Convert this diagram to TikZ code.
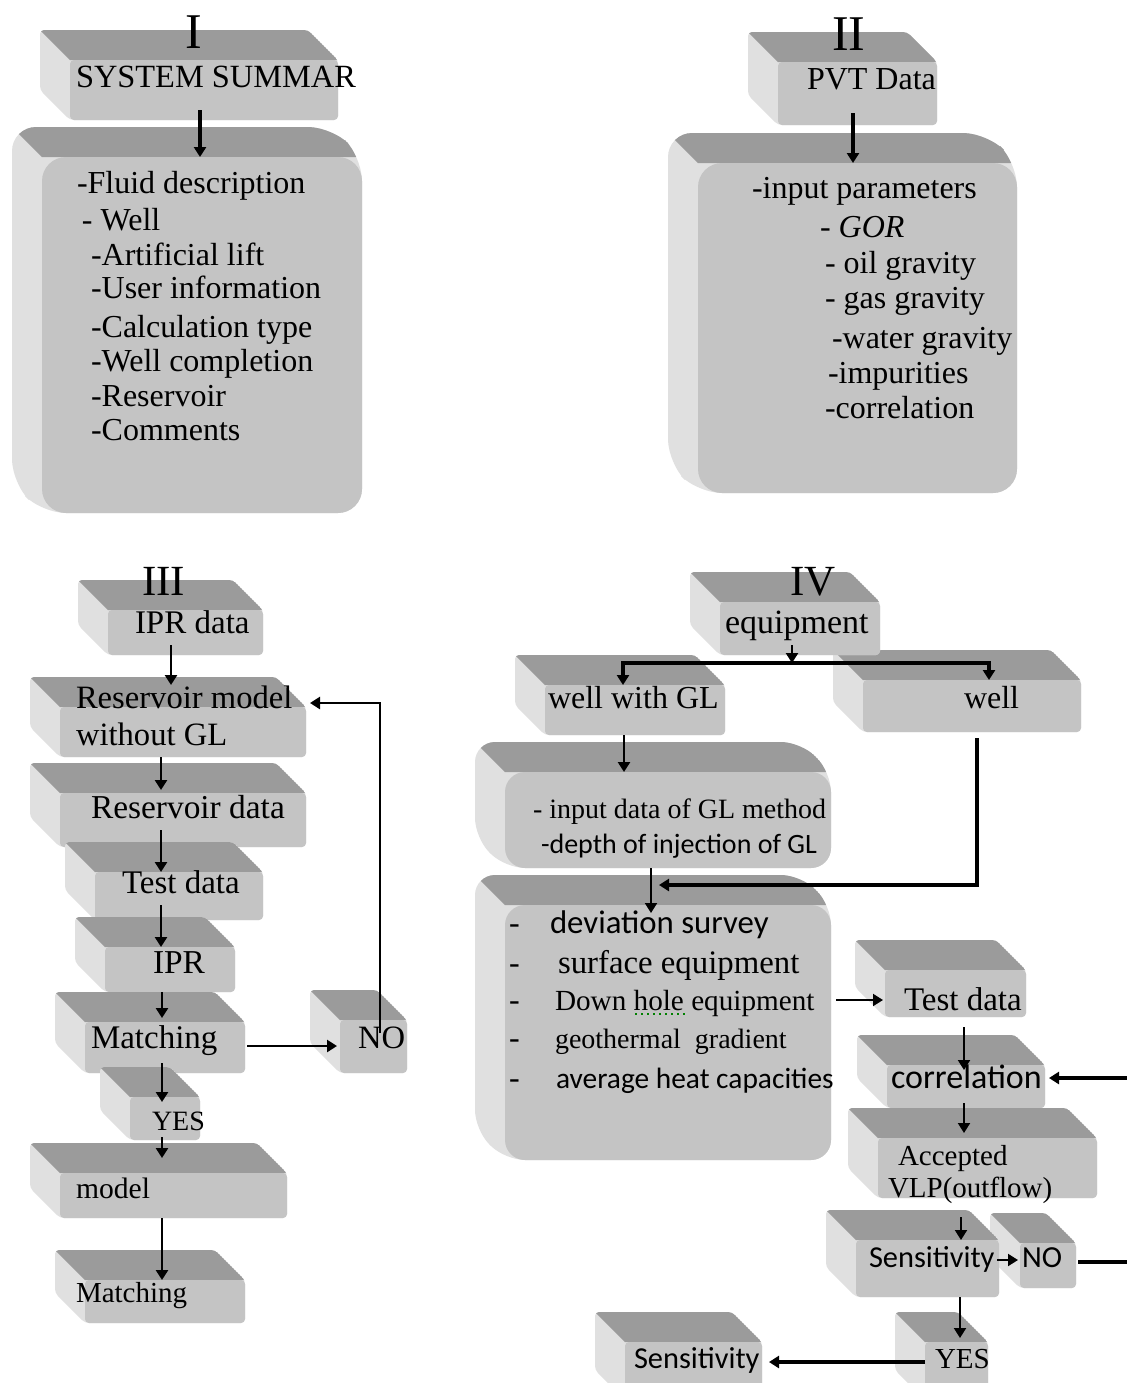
\documentclass[tikz,border=0pt]{standalone}
\usepackage{fontspec}
\setmainfont{Liberation Serif}
\newfontfamily\calib{Carlito}
\usetikzlibrary{arrows.meta,fit,calc}
\definecolor{ctop}{HTML}{9B9B9B}
\definecolor{cside}{HTML}{E0E0E0}
\definecolor{cfront}{HTML}{C4C4C4}
\tikzset{
  txt/.style={anchor=base west,inner sep=0pt,outer sep=0pt,font=\fontsize{#1}{#1}\selectfont},
  stxt/.style={anchor=base west,inner sep=0pt,outer sep=0pt,font=\calib\fontsize{#1}{#1}\selectfont},
  arr/.style={-{Triangle[length=5pt,width=6pt]},line width=1.4pt,black},
  thinarr/.style={arr,line width=1pt},
  thickarr/.style={arr,line width=2pt}
}
\newcommand\silhouette[1]{([shift={(-30,-30)}]#1.north west) -- ([shift={(-30,-30)}]#1.north east) -- (#1.north east) -- (#1.south east) -- (#1.south west) -- ([shift={(-30,-30)}]#1.south west) -- cycle}
\newcommand\boxcube[6]{%
  \node[fit={(#2,#3)(#4,#5)},inner sep=0pt,outer sep=0pt] (#1) {};
  \fill[cside,rounded corners=#6] \silhouette{#1};
  \begin{scope}
    \clip[rounded corners=#6] \silhouette{#1};
    \fill[ctop] ([shift={(-30,-30)}]#1.north west) -- ([shift={(-30,-30)}]#1.north east) -- (#1.north east) -- (#1.north west) -- cycle;
  \end{scope}
  \fill[cfront,rounded corners=#6] (#1.north west) rectangle (#1.south east);
}
\begin{document}
\begin{tikzpicture}[x=0.5pt,y=-0.5pt]
\useasboundingbox (0,0) rectangle (1126,1383);
\fill[white] (0,0) rectangle (1126,1383);

% ---------- boxes ----------
\boxcube{ss}{70}{60}{338}{120}{2pt}
\boxcube{sysI}{42}{157}{362}{513}{12pt}
\boxcube{pvt}{778}{62}{937}{125}{2pt}
\boxcube{pvtI}{698}{163}{1017}{493}{12pt}

\boxcube{iprd}{108}{610}{263}{655}{2pt}
\boxcube{resm}{60}{707}{306}{757}{2pt}
\boxcube{resd}{60}{793}{306}{847}{2pt}
\boxcube{testd}{95}{872}{263}{920}{2pt}
\boxcube{ipr}{105}{947}{235}{992}{2pt}
\boxcube{match}{85}{1022}{245}{1073}{2pt}
\boxcube{noA}{340}{1020}{407}{1073}{2pt}
\boxcube{yesA}{130}{1097}{200}{1140}{2pt}
\boxcube{model}{60}{1173}{287}{1218}{2pt}
\boxcube{match2}{85}{1280}{245}{1323}{2pt}

\boxcube{well}{863}{680}{1081}{732}{2pt}
\boxcube{equip}{720}{602}{880}{655}{2pt}
\boxcube{wgl}{545}{685}{725}{735}{2pt}
\boxcube{inp}{505}{772}{831}{868}{10pt}
\boxcube{dev}{505}{905}{831}{1160}{10pt}
\boxcube{testB}{885}{970}{1026}{1017}{2pt}
\boxcube{corr}{887}{1065}{1045}{1108}{2pt}
\boxcube{acc}{878}{1138}{1097}{1198}{2pt}
\boxcube{noB}{1020}{1243}{1076}{1288}{2pt}
\boxcube{sens}{856}{1240}{999}{1297}{2pt}
\boxcube{yesB}{925}{1342}{988}{1400}{2pt}
\boxcube{sens2}{625}{1342}{762}{1400}{2pt}

% ---------- texts: I ----------
\node[txt=25] (nI) at (185,48) {I};
\node[txt=16.2] (tSS) at (76,87) {SYSTEM SUMMAR};
\node[txt=16] (i1) at (77,193) {-Fluid description};
\node[txt=16] (i2) at (82,230) {- Well};
\node[txt=16] (i3) at (91,265) {-Artificial lift};
\node[txt=16] (i4) at (91,298) {-User information};
\node[txt=16] (i5) at (91,337) {-Calculation type};
\node[txt=16] (i6) at (91,371) {-Well completion};
\node[txt=16] (i7) at (91,406) {-Reservoir};
\node[txt=16] (i8) at (91,440) {-Comments};

% ---------- texts: II ----------
\node[txt=25] (nII) at (832,50) {II};
\node[txt=16] (tPVT) at (807,89) {PVT Data};
\node[txt=16] (p1) at (752,198) {-input parameters};
\node[txt=16] (p2) at (820,237) {- \textit{GOR}};
\node[txt=16] (p3) at (825,273) {- oil gravity};
\node[txt=16] (p4) at (825,308) {- gas gravity};
\node[txt=16] (p5) at (832,348) {-water gravity};
\node[txt=16] (p6) at (828,383) {-impurities};
\node[txt=16] (p7) at (825,418) {-correlation};

% ---------- texts: III ----------
\node[txt=21.5] (nIII) at (142,595) {III};
\node[txt=16.5] (tIPRd) at (135,633) {IPR data};
\node[txt=16.3] (tRM1) at (76,708) {Reservoir model};
\node[txt=16.3] (tRM2) at (76,745) {without GL};
\node[txt=16.7] (tRD) at (91,818) {Reservoir data};
\node[txt=16.5] (tTD) at (122,893) {Test data};
\node[txt=16.7] (tIPR) at (153,973) {IPR};
\node[txt=16.5] (tM) at (91,1048) {Matching};
\node[txt=16.3] (tNOA) at (358,1048) {NO};
\node[txt=14] (tYA) at (152,1130) {YES};
\node[txt=14.8] (tMod) at (76,1198) {model};
\node[txt=14.5] (tM2) at (76,1302) {Matching};

% ---------- texts: IV ----------
\node[txt=21.5] (nIV) at (790,595) {IV};
\node[txt=17] (tEq) at (725,633) {equipment};
\node[txt=16] (tWGL) at (548,708) {well with GL};
\node[txt=16] (tW) at (964,708) {well};
\node[txt=14] (tIn1) at (533,818) {- input data of GL method};
\node[stxt=14] (tIn2) at (541,853) {-depth of injection of GL};
\node[txt=16] (d1) at (509,933) {-};
\node[txt=16] (d2) at (509,973) {-};
\node[txt=16] (d3) at (509,1010) {-};
\node[txt=16] (d4) at (509,1048) {-};
\node[txt=16] (d5) at (509,1088) {-};
\node[stxt=16.4] (e1) at (550,933) {deviation survey};
\node[txt=16.4] (e2) at (558,973) {surface equipment};
\node[txt=14.6] (e3) at (555,1010) {Down hole equipment};
\node[txt=14] (e4) at (555,1048) {geothermal\ \ gradient};
\node[stxt=14.7] (e5) at (556,1088) {average heat capacities};
\draw[green!50!black,dotted,line width=1pt] (e3.base west) ++(80,4) -- ++(50,0);
\node[txt=16.5] (tTB) at (904,1010) {Test data};
\node[stxt=17] (tCorr) at (891,1088) {correlation};
\node[txt=14.5] (tAcc1) at (898,1165) {Accepted};
\node[txt=14.5] (tAcc2) at (888,1197) {VLP(outflow)};
\node[stxt=15.2] (tSens) at (869,1267) {Sensitivity};
\node[stxt=15.3] (tNOB) at (1022,1267) {NO};
\node[txt=14.5] (tYB) at (935,1368) {YES};
\node[stxt=15.2] (tSens2) at (634,1368) {Sensitivity};

% ---------- connectors: I, II ----------
\draw[thickarr] ($(ss.south -| 200,0)+(0,-10)$) -- (sysI.north -| 200,0);
\draw[thickarr] ($(pvt.south -| 853,0)+(0,-12)$) -- (pvtI.north -| 853,0);

% ---------- connectors: III ----------
\draw[arr] ($(iprd.south -| 171,0)+(0,-10)$) -- ($(resm.north -| 171,0)+(0,-22)$);
\draw[arr] (resm.south -| 161,0) -- ($(resd.north -| 161,0)+(0,-3)$);
\draw[arr] ($(resd.south -| 161,0)+(0,-17)$) -- (testd.north -| 161,0);
\draw[arr] ($(testd.south -| 161,0)+(0,-15)$) -- (ipr.north -| 161,0);
\draw[arr] (ipr.south -| 162,0) -- ($(match.north -| 162,0)+(0,-4)$);
\draw[arr] ($(match.east |- 0,1046)+(2,0)$) -- ($(noA.west |- 0,1046)+(-3,0)$);
\draw[arr] ($(noA.north -| 380,0)+(0,13)$) |- ($(resm.north east)+(4,-4)$);
\draw[arr] ($(match.south -| 162,0)+(0,-10)$) -- ($(yesA.north -| 162,0)+(0,5)$);
\draw[arr] ($(yesA.south -| 162,0)+(0,-3)$) -- ($(model.north -| 162,0)+(0,-15)$);
\draw[arr] (model.south -| 162,0) -- (match2.north -| 162,0);

% ---------- connectors: IV ----------
\coordinate (jn) at (792,663);
\draw[arr] ($(equip.south -| 792,0)+(0,-10)$) -- (jn);
\draw[arr,line width=1.8pt] (jn) -| (wgl.north -| 623,0);
\draw[arr,line width=1.8pt] (jn) -| (well.north -| 989,0);
\draw[arr] (wgl.south -| 624,0) -- (inp.north -| 624,0);
\draw[arr,line width=1.8pt] ($(well.south -| 977,0)+(0,6)$) |- ($(dev.north west)+(154,-20)$);
\draw[thinarr] (inp.south -| 651,0) -- ($(dev.north -| 651,0)+(0,8)$);
\draw[thinarr] ($(dev.east |- 0,1000)+(5,0)$) -- ($(testB.west |- 0,1000)+(-2,0)$);
\draw[thinarr] ($(testB.south -| 964,0)+(0,10)$) -- ($(corr.north -| 964,0)+(0,5)$);
\draw[thinarr] ($(corr.south -| 964,0)+(0,-5)$) -- ($(acc.north -| 964,0)+(0,-5)$);
\draw[thinarr] ($(acc.south -| 961,0)+(0,19)$) -- (sens.north -| 961,0);
\draw[thinarr] ($(sens.east |- 0,1260)+(-2,0)$) -- ($(noB.west |- 0,1260)+(-2,0)$);
\draw[arr,line width=1.8pt] ($(noB.east |- 0,1262)+(2,0)$) -- ++(80,0) |- ($(corr.east |- 0,1078)+(4,0)$);
\draw[thinarr] (sens.south -| 960,0) -- ($(yesB.north -| 960,0)+(0,-4)$);
\draw[arr,line width=1.8pt] (yesB.west |- 0,1362) -- ($(sens2.east |- 0,1362)+(7,0)$);
\end{tikzpicture}
\end{document}
